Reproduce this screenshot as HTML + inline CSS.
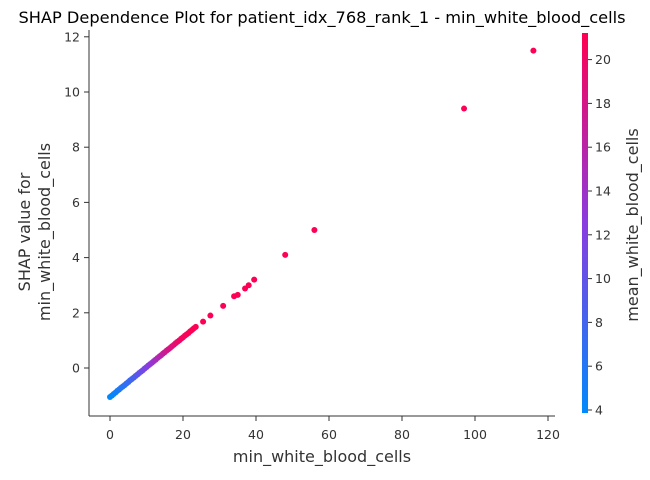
<!DOCTYPE html>
<html><head><meta charset="utf-8"><style>
body{margin:0;background:#fff}
svg text{font-family:"DejaVu Sans","Liberation Sans",sans-serif;fill:#333}
</style></head><body>
<svg id="chart" width="650" height="475" viewBox="0 0 650 475" xmlns="http://www.w3.org/2000/svg">
<defs><linearGradient id="cbg" x1="0" y1="1" x2="0" y2="0">
<stop offset="0" stop-color="#008afb"/><stop offset="0.5" stop-color="#8a3ce0"/><stop offset="1" stop-color="#ff0052"/>
</linearGradient></defs>
<text x="322" y="23" font-size="16.2" text-anchor="middle" style="fill:#000">SHAP Dependence Plot for patient_idx_768_rank_1 - min_white_blood_cells</text>
<g id="points"></g>
<g id="axes"></g>
<rect x="582" y="33" width="6" height="380" fill="url(#cbg)"/>
<text x="322" y="462" font-size="16" text-anchor="middle">min_white_blood_cells</text>
<text transform="translate(30,232) rotate(-90)" font-size="16" text-anchor="middle">SHAP value for</text>
<text transform="translate(50,232) rotate(-90)" font-size="16" text-anchor="middle">min_white_blood_cells</text>
<text transform="translate(638,225) rotate(-90)" font-size="16" text-anchor="middle">mean_white_blood_cells</text>
</svg>
<script>
const xVals=[0,0.5,1,1.5,2,2.5,3,3.5,4,4.5,5,5.5,6,6.5,7,7.5,8,8.5,9,9.5,10,10.5,11,11.5,12,12.5,13,13.5,14,14.5,15,15.5,16,16.5,17,17.5,18,18.5,19,19.5,20,20.5,21,21.5,22,22.5,23,23.5,25.5,27.5,31,34,35,37,38,39.5,48,56,97,116];
const yVals=[-1.05,-1.0,-0.94,-0.89,-0.83,-0.78,-0.72,-0.67,-0.62,-0.56,-0.51,-0.45,-0.40,-0.35,-0.29,-0.24,-0.18,-0.13,-0.08,-0.02,0.03,0.09,0.14,0.19,0.25,0.30,0.36,0.41,0.46,0.52,0.57,0.63,0.68,0.73,0.79,0.84,0.90,0.95,1.0,1.06,1.11,1.17,1.22,1.27,1.33,1.38,1.44,1.49,1.68,1.9,2.25,2.6,2.65,2.88,3.0,3.2,4.1,5.0,9.4,11.5];
const cVals=[4,4.3,4.6,5,5.3,5.6,6,6.3,6.6,7,7.3,7.7,8,8.5,9,9.5,10,10.5,11,11.5,12,12.5,13,13.5,14,14.5,15,15.5,16,16.5,17,17.5,18,18.3,18.6,19,19.3,19.6,20,20.2,20.4,20.6,20.8,21,21,21,21,21,21,21,21,21,21,21,21,21,21,21,21,21];
const xTicks=[0,20,40,60,80,100,120];
const yTicks=[0,2,4,6,8,10,12];
const cTicks=[4,6,8,10,12,14,16,18,20];
const NS="http://www.w3.org/2000/svg";
const X=v=>110+v*3.65, Y=v=>368-v*27.6, C=v=>410-(v-4)*21.9;
function col(v){let t=Math.max(0,Math.min(1,(v-4)/17.2));let a,b,u;
 if(t<0.5){a=[0,138,251];b=[138,60,224];u=t/0.5}else{a=[138,60,224];b=[255,0,82];u=(t-0.5)/0.5}
 return `rgb(${a.map((x,i)=>Math.round(x+(b[i]-x)*u)).join(',')})`;}
function mk(tag,at,parent){const e=document.createElementNS(NS,tag);for(const k in at)e.setAttribute(k,at[k]);parent.appendChild(e);return e;}
const pg=document.getElementById('points');
xVals.forEach((x,i)=>{const c=mk('circle',{cx:X(x),cy:Y(yVals[i]),r:3,fill:col(cVals[i])},pg);

});
const ag=document.getElementById('axes');
let l=mk('line',{x1:89,y1:30,x2:89,y2:416,stroke:'#333','stroke-width':1},ag);


l=mk('line',{x1:89,y1:416,x2:555,y2:416,stroke:'#333','stroke-width':1},ag);


xTicks.forEach(v=>{mk('line',{x1:X(v),x2:X(v),y1:416,y2:421,stroke:'#333'},ag);
const t=mk('text',{x:X(v),y:439,'font-size':12.5,'text-anchor':'middle'},ag);t.textContent=v;

});
yTicks.forEach(v=>{mk('line',{x1:84,x2:89,y1:Y(v),y2:Y(v),stroke:'#333'},ag);
const t=mk('text',{x:80,y:Y(v)+4.5,'font-size':12.5,'text-anchor':'end'},ag);t.textContent=v;

});
cTicks.forEach(v=>{mk('line',{x1:588,x2:592,y1:C(v),y2:C(v),stroke:'#333'},ag);
const t=mk('text',{x:595,y:C(v)+4.5,'font-size':12.5},ag);t.textContent=v;

});
</script>
</body></html>
